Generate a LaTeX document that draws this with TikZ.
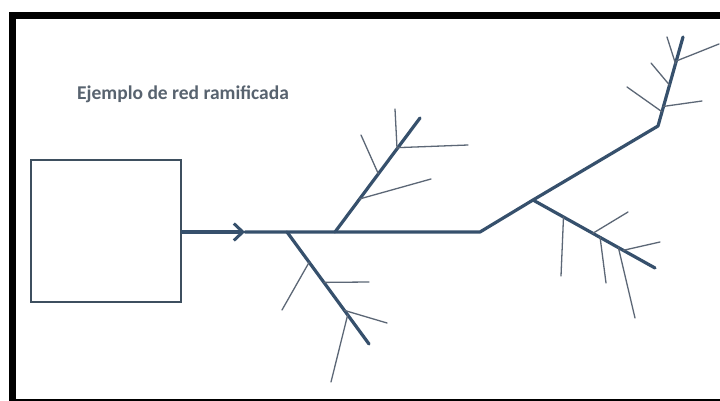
\documentclass[tikz,border=0pt]{standalone}
\usepackage{fontspec}
\setmainfont{Carlito}
\usetikzlibrary{arrows.meta,calc}
\definecolor{pipe}{HTML}{36506C}
\definecolor{twigc}{HTML}{5C6776}
\definecolor{boxc}{HTML}{3E4F5F}
\definecolor{titlec}{HTML}{58636F}
\tikzset{
  mainpipe/.style={draw=pipe, line width=3.2pt, line cap=round, line join=round},
  twig/.style={draw=twigc, line width=1.3pt, line cap=round},
  tankbox/.style={draw=boxc, line width=2.4pt, minimum width=150pt, minimum height=142pt, inner sep=0pt},
  frame/.style={draw=black, line width=7pt},
  titletext/.style={font=\bfseries\fontsize{19.5}{21}\selectfont, text=titlec, anchor=base west, inner sep=0pt}
}
\begin{document}
\begin{tikzpicture}[x=1pt,y=-1pt]
\useasboundingbox (0,0) rectangle (720,401);
\fill[white] (0,0) rectangle (720,401);
\draw[frame] (12.5,15.5) rectangle (740,402.5);
\node[titletext] (title) at (77,100) {Ejemplo de red ramificada};
\node[tankbox] (tank) at (106,231) {};
% main line coordinates
\coordinate (arrowtip) at (245,232);
\coordinate (ja) at (287,232);
\coordinate (jb) at (335,232);
\coordinate (jc) at (480,232);
\coordinate (jd) at (533,200);
\coordinate (je) at (658,126);
\coordinate (etop) at (683,37);
\coordinate (dend) at (655,268);
\coordinate (aend) at (369,344);
\coordinate (bend) at (420,118);
\draw[mainpipe, -{Straight Barb[length=9pt,width=17pt,line width=3pt]}] (tank.east |- arrowtip) -- (arrowtip);
\draw[mainpipe] (arrowtip) -- (ja) -- (jb) -- (jc) -- (jd) -- (je) -- (etop);
\draw[mainpipe] (ja) -- (aend);
\draw[mainpipe] (jb) -- (bend);
\draw[mainpipe] (jd) -- (dend);
% lower-left branch twigs
\coordinate (a1) at ($(ja)!0.27!(aend)$);
\coordinate (a2) at ($(ja)!0.45!(aend)$);
\coordinate (a3) at ($(ja)!0.70!(aend)$);
\coordinate (a4) at ($(ja)!0.74!(aend)$);
\coordinate (a1e) at (282,310);
\coordinate (a2e) at (369,282);
\coordinate (a3e) at (387,323);
\coordinate (a4e) at (331,382);
\draw[twig] (a1) -- (a1e);
\draw[twig] (a2) -- (a2e);
\draw[twig] (a3) -- (a3e);
\draw[twig] (a4) -- (a4e);
% upper-middle branch twigs
\coordinate (b1) at ($(jb)!0.29!(bend)$);
\coordinate (b2) at ($(jb)!0.51!(bend)$);
\coordinate (b3) at ($(jb)!0.73!(bend)$);
\coordinate (b4) at ($(jb)!0.74!(bend)$);
\coordinate (b1e) at (431,179);
\coordinate (b2e) at (361,135);
\coordinate (b3e) at (395,109);
\coordinate (b4e) at (468,145);
\draw[twig] (b1) -- (b1e);
\draw[twig] (b2) -- (b2e);
\draw[twig] (b3) -- (b3e);
\draw[twig] (b4) -- (b4e);
% lower-right branch twigs
\coordinate (d1) at ($(jd)!0.25!(dend)$);
\coordinate (d2) at ($(jd)!0.49!(dend)$);
\coordinate (d3) at ($(jd)!0.55!(dend)$);
\coordinate (d4) at ($(jd)!0.70!(dend)$);
\coordinate (d5) at ($(jd)!0.74!(dend)$);
\coordinate (d1e) at (561,276);
\coordinate (d2e) at (628,212);
\coordinate (d3e) at (606,283);
\coordinate (d4e) at (635,318);
\coordinate (d5e) at (660,242);
\draw[twig] (d1) -- (d1e);
\draw[twig] (d2) -- (d2e);
\draw[twig] (d3) -- (d3e);
\draw[twig] (d4) -- (d4e);
\draw[twig] (d5) -- (d5e);
% top-right branch twigs
\coordinate (e1) at ($(je)!0.16!(etop)$);
\coordinate (e2) at ($(je)!0.22!(etop)$);
\coordinate (e3) at ($(je)!0.46!(etop)$);
\coordinate (e4) at ($(je)!0.70!(etop)$);
\coordinate (e5) at ($(je)!0.73!(etop)$);
\coordinate (e1e) at (627,87);
\coordinate (e2e) at (702,101);
\coordinate (e3e) at (651,63);
\coordinate (e4e) at (667,37);
\coordinate (e5e) at (719,44);
\draw[twig] (e1) -- (e1e);
\draw[twig] (e2) -- (e2e);
\draw[twig] (e3) -- (e3e);
\draw[twig] (e4) -- (e4e);
\draw[twig] (e5) -- (e5e);
\end{tikzpicture}
\end{document}
